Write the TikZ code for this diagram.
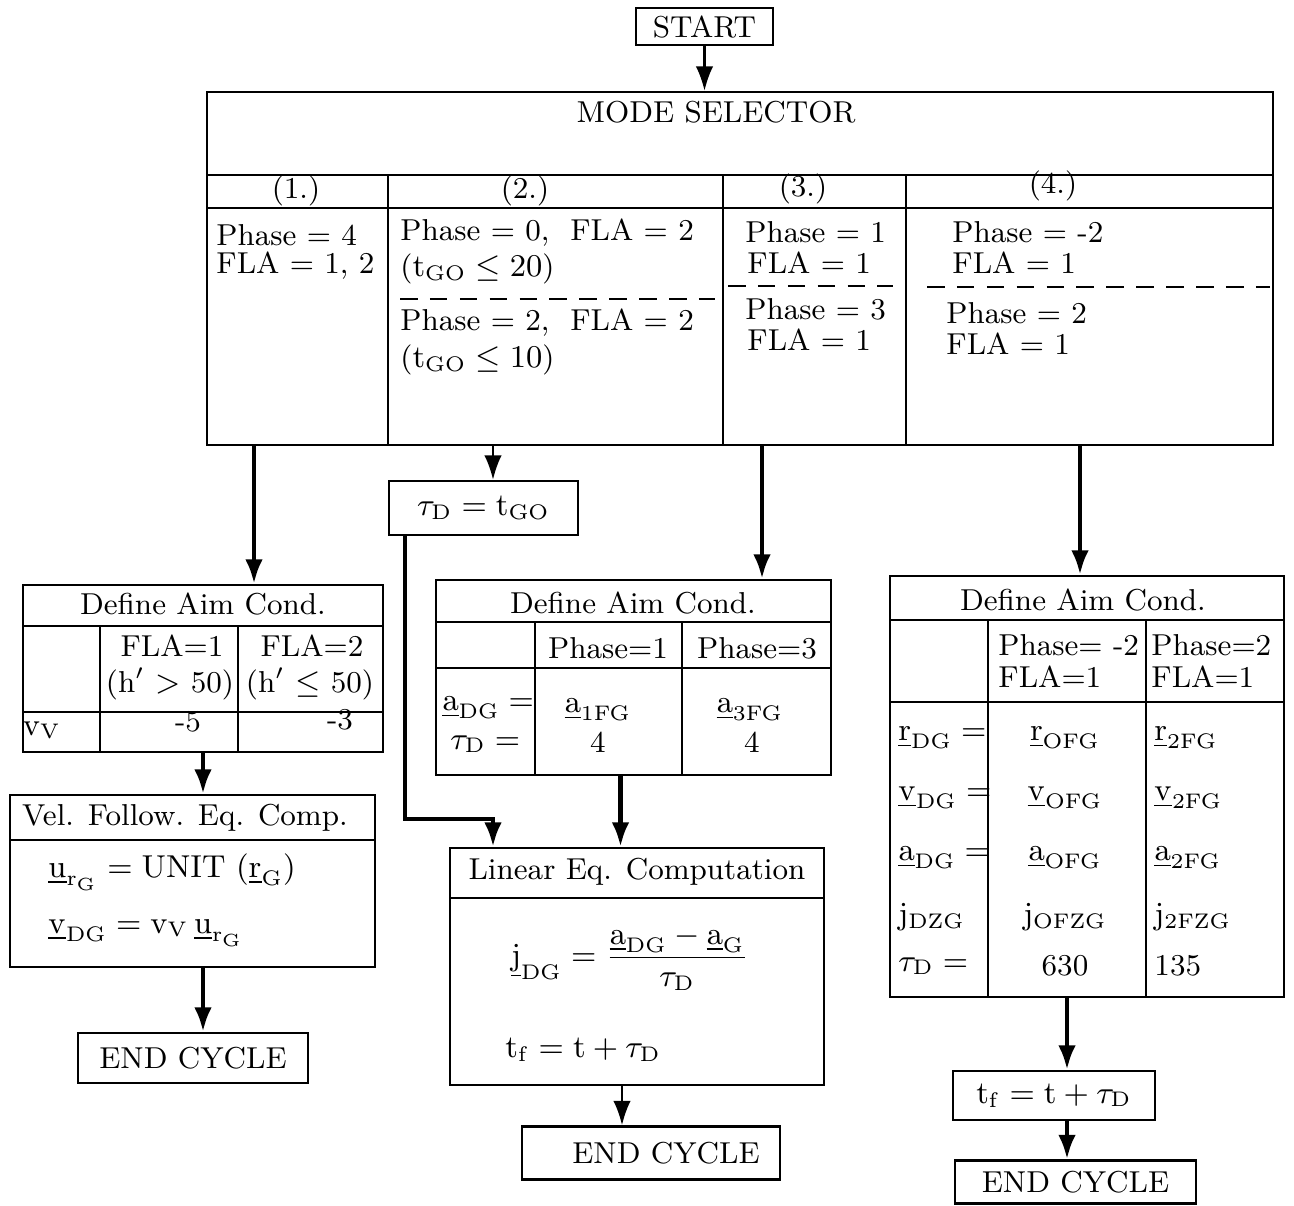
\documentclass[tikz,border=0pt]{standalone}
\usepackage{amsmath, amssymb}
\usepackage{tikz}
\usetikzlibrary{calc, positioning, fit, arrows.meta}

\newcommand{\uvec}[1]{\underline{\mathrm{#1}}}

\begin{document}
\begin{tikzpicture}[x=0.01cm, y=-0.01cm, >={Latex[length=7pt,width=5pt]},
    box/.style={draw, line width=0.6pt, inner sep=0pt},
    txt/.style={inner sep=0.5pt, font=\fontsize{8.6}{10}\selectfont},
    cell/.style={txt, anchor=west},
    rule/.style={line width=0.6pt},
    split/.style={line width=0.6pt, dash pattern=on 5pt off 3.5pt},
    flowthin/.style={->, line width=0.8pt},
    flowbold/.style={->, line width=1.3pt}]
    \useasboundingbox (0,0) rectangle (1294,1205);

    % 1. Start and mode selector
    \node[box, txt, minimum width=1.37cm, minimum height=0.37cm] (start) at (704.5,26.5) {START};
    \node[box, fit={(207,92) (1273,445)}] (mode) {};
    \node[txt] (msT) at (716,112) {MODE SELECTOR};
    \draw[rule] (207,175) -- (1273,175);
    \draw[rule] (207,208) -- (1273,208);
    \foreach \cx in {388,723,906} {
        \draw[rule] (\cx,175) -- (\cx,445);
    }
    \foreach \cx/\cy/\k in {296/191/1, 525/191/2, 803/189/3, 1053/186/4} {
        \node[txt] (hd\k) at (\cx,\cy) {(\k.)};
    }

    % 2. Contents of the four modes
    \node[cell] (c1a) at (214,235) {Phase = 4};
    \node[cell] (c1b) at (214,266) {FLA = 1, 2};
    \node[cell] (c2a) at (398,233) {Phase = 0,\ \ FLA = 2};
    \node[cell] (c2b) at (398,269) {($\mathrm{t}_{\mathrm{GO}} \leq 20$)};
    \draw[split] (400,299) -- (715,299);
    \node[cell] (c2c) at (398,323) {Phase = 2,\ \ FLA = 2};
    \node[cell] (c2d) at (398,360) {($\mathrm{t}_{\mathrm{GO}} \leq 10$)};
    \node[cell] (c3a) at (743,232) {Phase = 1};
    \node[cell] (c3b) at (745,263) {FLA = 1};
    \draw[split] (728,286) -- (893,286);
    \node[cell] (c3c) at (743,309) {Phase = 3};
    \node[cell] (c3d) at (745,340) {FLA = 1};
    \node[cell] (c4a) at (950,232) {Phase = -2};
    \node[cell] (c4b) at (950,263) {FLA = 1};
    \draw[split] (927,287) -- (1270,287);
    \node[cell] (c4c) at (944,313) {Phase = 2};
    \node[cell] (c4d) at (944,344) {FLA = 1};

    % 3. Mode (1.): velocity following
    \node[box, fit={(23,585) (383,752)}] (aimL) {};
    \node[txt] (aimLT) at (203,604) {Define Aim Cond.};
    \draw[rule] (23,626) -- (383,626);
    \draw[rule] (23,712) -- (383,712);
    \foreach \cx in {100,238} {
        \draw[rule] (\cx,626) -- (\cx,752);
    }
    \node[txt] (l1a) at (172,646) {FLA=1};
    \node[txt] (l1b) at (170,684) {(h$'$ $>$ 50)};
    \node[txt] (l2a) at (312,646) {FLA=2};
    \node[txt] (l2b) at (310,684) {(h$'$ $\leq$ 50)};
    \node[txt] (lvv) at (42,730) {$\mathrm{v}_{\mathrm{V}}$};
    \node[txt] (lv1) at (188,722) {-5};
    \node[txt] (lv2) at (340,720) {-3};

    \node[box, fit={(10,795) (375,967)}] (velL) {};
    \node[txt] (velLT) at (185,818) {Vel. Follow. Eq. Comp.};
    \draw[rule] (10,840) -- (375,840);
    \node[cell] (ur) at (46,872) {$\uvec{u}_{\mathrm{r}_{\mathrm{G}}} = \mathrm{UNIT}\ (\uvec{r}_{\mathrm{G}})$};
    \node[cell] (vdg) at (46,933) {$\uvec{v}_{\mathrm{DG}} = \mathrm{v}_{\mathrm{V}}\,\uvec{u}_{\mathrm{r}_{\mathrm{G}}}$};

    \node[box, txt, minimum width=2.3cm, minimum height=0.5cm] (endL) at (193,1058) {END CYCLE};

    % 4. Modes (2.) and (3.): linear equations
    \node[box, txt, minimum width=1.89cm, minimum height=0.54cm] (tau) at (483.5,508) {$\tau_{\mathrm{D}} = \mathrm{t}_{\mathrm{GO}}$};

    \node[box, fit={(436,580) (831,775)}] (aimM) {};
    \node[txt] (aimMT) at (633,603) {Define Aim Cond.};
    \draw[rule] (436,622) -- (831,622);
    \draw[rule] (436,668) -- (831,668);
    \foreach \cx in {535,682} {
        \draw[rule] (\cx,622) -- (\cx,775);
    }
    \node[txt] (m1h) at (608,648) {Phase=1};
    \node[txt] (m2h) at (757,648) {Phase=3};
    \node[cell] (madg) at (440,708) {$\uvec{a}_{\mathrm{DG}} =$};
    \node[cell] (mtau) at (448,744) {$\tau_{\mathrm{D}} =$};
    \node[txt] (ma1) at (598,710) {$\uvec{a}_{\mathrm{1FG}}$};
    \node[txt] (mt1) at (598,742) {4};
    \node[txt] (ma3) at (750,710) {$\uvec{a}_{\mathrm{3FG}}$};
    \node[txt] (mt3) at (752,742) {4};

    \node[box, fit={(450,848) (824,1085)}] (lin) {};
    \node[txt] (linT) at (637,872) {Linear Eq. Computation};
    \draw[rule] (450,898) -- (824,898);
    \node[txt] (jdg) at (630,958) {$\uvec{j}_{\mathrm{DG}} = \dfrac{\uvec{a}_{\mathrm{DG}} - \uvec{a}_{\mathrm{G}}}{\tau_{\mathrm{D}}}$};
    \node[cell] (tfM) at (503,1050) {$\mathrm{t}_{\mathrm{f}} = \mathrm{t} + \tau_{\mathrm{D}}$};

    \node[box, txt, minimum width=2.58cm, minimum height=0.53cm] (endM) at (651,1153) {\hspace{0.3cm}END CYCLE};

    % 5. Mode (4.): polynomial aim conditions
    \node[box, fit={(890,576) (1284,997)}] (aimR) {};
    \node[txt] (aimRT) at (1083,600) {Define Aim Cond.};
    \draw[rule] (890,620) -- (1284,620);
    \draw[rule] (890,702) -- (1284,702);
    \foreach \cx in {988,1146} {
        \draw[rule] (\cx,620) -- (\cx,997);
    }
    \node[cell] (r1h) at (996,645) {Phase= -2};
    \node[cell] (r1f) at (996,677) {FLA=1};
    \node[cell] (r2h) at (1149,645) {Phase=2};
    \node[cell] (r2f) at (1149,677) {FLA=1};
    \foreach \ry/\lhs/\mid/\rhs [count=\i] in {
        738/{$\uvec{r}_{\mathrm{DG}} =$}/{$\uvec{r}_{\mathrm{OFG}}$}/{$\uvec{r}_{\mathrm{2FG}}$},
        798/{$\uvec{v}_{\mathrm{DG}} =$}/{$\uvec{v}_{\mathrm{OFG}}$}/{$\uvec{v}_{\mathrm{2FG}}$},
        858/{$\uvec{a}_{\mathrm{DG}} =$}/{$\uvec{a}_{\mathrm{OFG}}$}/{$\uvec{a}_{\mathrm{2FG}}$},
        917/{$\mathrm{j}_{\mathrm{DZG}}$}/{$\mathrm{j}_{\mathrm{OFZG}}$}/{$\mathrm{j}_{\mathrm{2FZG}}$},
        966/{$\tau_{\mathrm{D}} =$}/{630}/{135}} {
        \node[cell] (rl\i) at (896,\ry) {\lhs};
        \node[txt] (rm\i) at (1065,\ry) {\mid};
        \node[cell] (rr\i) at (1152,\ry) {\rhs};
    }

    \node[box, txt, minimum width=2.02cm, minimum height=0.49cm] (tfR) at (1054,1095.5) {$\mathrm{t}_{\mathrm{f}} = \mathrm{t} + \tau_{\mathrm{D}}$};
    \node[box, txt, minimum width=2.41cm, minimum height=0.43cm] (endR) at (1075.5,1182) {END CYCLE};

    % 6. Connectors
    \coordinate (m1) at (254,445);
    \coordinate (m2) at (493,445);
    \coordinate (m3) at (762,445);
    \coordinate (m4) at (1080,445);
    \coordinate (aM) at ($(aimM.south)+(-13,0)$);
    \coordinate (lM) at ($(lin.south)+(-15,0)$);
    \coordinate (aR) at ($(aimR.south)+(-20,0)$);
    \draw[flowthin] (start.south) -- (start.south |- mode.north);
    \draw[flowbold] (m1) -- (m1 |- aimL.north);
    \draw[flowthin] (m2) -- (m2 |- tau.north);
    \draw[flowbold] (m3) -- (m3 |- aimM.north);
    \draw[flowbold] (m4) -- (m4 |- aimR.north);
    \draw[flowbold] (aimL.south) -- (aimL.south |- velL.north);
    \draw[flowbold] (velL.south -| aimL.south) -- (aimL.south |- endL.north);
    \draw[flowbold] ([xshift=0.17cm]tau.south west) -- ++(0,283) -| (m2 |- lin.north);
    \draw[flowbold] (aM) -- (aM |- lin.north);
    \draw[flowthin] (lM) -- (lM |- endM.north);
    \draw[flowbold] (aR) -- (aR |- tfR.north);
    \draw[flowbold] (aR |- tfR.south) -- (aR |- endR.north);
\end{tikzpicture}
\end{document}
